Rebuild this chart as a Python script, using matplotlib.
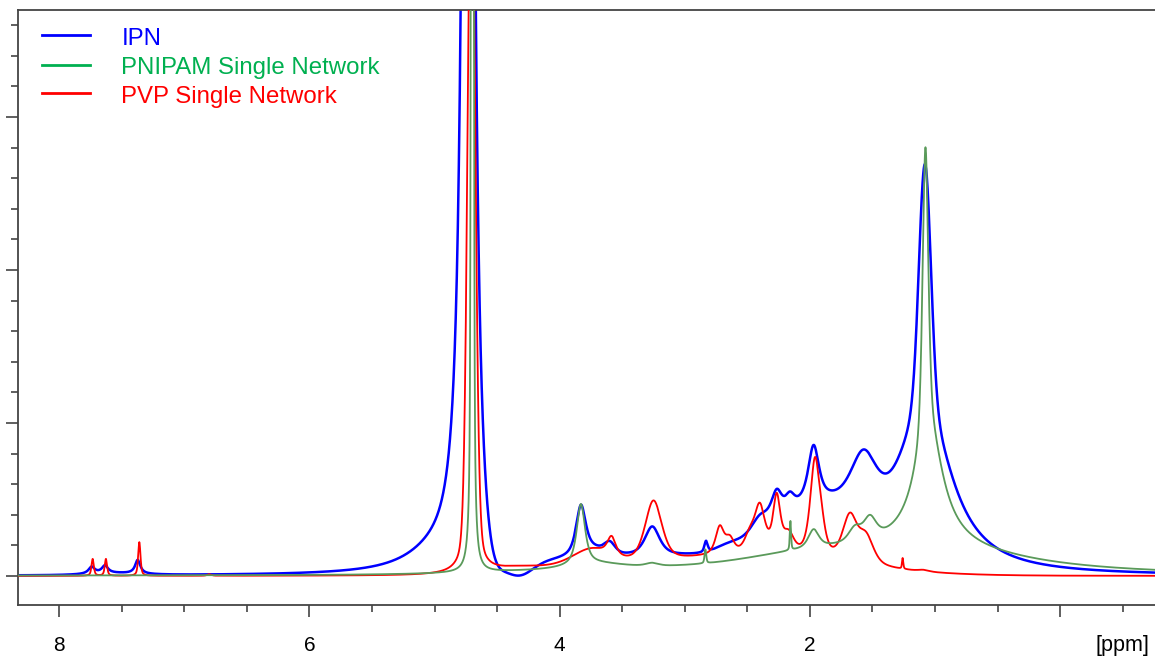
import numpy as np
import matplotlib
matplotlib.use("Agg")
from matplotlib import pyplot as plt
from matplotlib.lines import Line2D

plt.rcParams["font.family"] = ["Liberation Sans", "DejaVu Sans"]

# Peak tables: centre [ppm], height, half width [ppm],
# Lorentzian fraction (1 = Lorentzian, 0 = Gaussian)
ipn_centers = [4.73, 5.00, 4.57, 4.36, 7.741, 7.635, 7.373, 7.55, 3.20, 3.83, 3.75, 3.60,
               3.26, 2.83, 2.65, 2.40, 2.265, 2.16, 1.97, 1.57, 1.95, 1.08, 1.08]
ipn_heights = [15.3, 0.10, -0.30, -0.16, 0.045, 0.05, 0.09, 0.012, 0.10, 0.31, 0.06, 0.07,
               0.19, 0.07, 0.03, 0.09, 0.17, 0.08, 0.35, 0.35, 0.38, 1.53, 1.12]
ipn_widths = [0.0345, 0.30, 0.106, 0.15, 0.03, 0.03, 0.025, 0.25, 0.80, 0.045, 0.15, 0.05,
              0.07, 0.015, 0.12, 0.08, 0.05, 0.04, 0.05, 0.12, 0.45, 0.055, 0.25]
ipn_shape = [1.0, 1.0, 0.0, 0.0, 1.0, 1.0, 1.0, 0.5, 0.0, 0.7, 0.5, 0.5,
             0.7, 0.5, 0.5, 0.5, 0.7, 0.5, 0.7, 0.5, 0.0, 0.0, 1.0]

pnipam_centers = [4.698, 1.076, 1.05, 1.00, 2.00, 1.97, 1.52, 1.64, 2.155, 2.835,
                  3.83, 3.70, 3.26, 3.50]
pnipam_heights = [20.0, 1.89, 0.75, 0.17, 0.08, 0.12, 0.14, 0.09, 0.19, 0.09,
                  0.40, 0.03, 0.02, 0.03]
pnipam_widths = [0.008, 0.027, 0.14, 0.90, 0.60, 0.05, 0.06, 0.06, 0.006, 0.008,
                 0.04, 0.25, 0.06, 1.00]
pnipam_shape = [0.35, 0.5, 1.0, 1.0, 0.0, 0.7, 0.6, 0.6, 0.5, 0.5,
                0.8, 0.5, 0.5, 0.0]

pvp_centers = [4.705, 4.30, 2.50, 3.75, 3.585, 3.25, 2.72, 2.64, 2.48, 2.40, 2.265, 2.17,
               1.96, 1.91, 1.68, 1.55, 1.258, 1.09, 7.733, 7.627, 7.36, 6.80]
pvp_heights = [5.0, 0.04, 0.125, 0.13, 0.12, 0.40, 0.18, 0.09, 0.10, 0.30, 0.36, 0.12,
               0.61, 0.12, 0.30, 0.17, 0.07, 0.01, 0.11, 0.11, 0.22, 0.01]
pvp_widths = [0.035, 0.30, 0.90, 0.20, 0.04, 0.08, 0.04, 0.04, 0.05, 0.05, 0.035, 0.05,
              0.045, 0.04, 0.07, 0.07, 0.006, 0.05, 0.011, 0.011, 0.011, 0.02]
pvp_shape = [0.25, 0.5, 0.0, 0.5, 0.7, 0.5, 0.7, 0.5, 0.5, 0.7, 0.7, 0.5,
             0.7, 0.5, 0.6, 0.5, 0.5, 0.5, 0.6, 0.6, 0.6, 0.5]

labels = ["IPN", "PNIPAM Single Network", "PVP Single Network"]
line_colors = ["#0000ff", "#5a9a5a", "#ff0000"]
legend_colors = ["#0000ff", "#00b050", "#ff0000"]

x_ticks = [8, 6, 4, 2, 0]
x_ticklabels = ["8", "6", "4", "2", ""]


def spectrum(ppm, centers, heights, widths, shape):
    total = np.zeros_like(ppm)
    for c, h, w, eta in zip(centers, heights, widths, shape):
        u = ((ppm - c) / w) ** 2
        total += h * (eta / (1.0 + u) + (1.0 - eta) * np.exp(-np.log(2) * u))
    return total


ppm = np.linspace(-0.8, 8.4, 30000)
ipn = spectrum(ppm, ipn_centers, ipn_heights, ipn_widths, ipn_shape)
pnipam = spectrum(ppm, pnipam_centers, pnipam_heights, pnipam_widths, pnipam_shape)
pvp = spectrum(ppm, pvp_centers, pvp_heights, pvp_widths, pvp_shape)

W, H = 1155, 658
figure = plt.figure(figsize=(W / 100, H / 100), dpi=100)
axis = figure.add_axes([18 / W, 1 - 605 / H, 1 - 18 / W, 595 / H])

axis.plot(ppm, ipn, color=line_colors[0], lw=1.8, zorder=2)
axis.plot(ppm, pvp, color=line_colors[2], lw=1.3, zorder=3)
axis.plot(ppm, pnipam, color=line_colors[1], lw=1.3, zorder=4)

axis.set_xlim(8.330, -0.759)
axis.set_ylim(-0.19, 3.70)

axis.set_xticks(x_ticks)
axis.set_xticklabels(x_ticklabels)
axis.set_xticks(np.arange(-0.5, 8.5, 0.5), minor=True)
axis.set_yticks([0, 1, 2, 3])
axis.set_yticklabels([])
axis.set_yticks(np.arange(0, 3.7, 0.2), minor=True)

for side in ["left", "top", "bottom"]:
    axis.spines[side].set_color("#444444")
    axis.spines[side].set_linewidth(1.3)
axis.spines["right"].set_visible(False)

axis.tick_params(which="major", length=8.5, width=1.2, color="#444444",
                 labelsize=15, pad=14, direction="out")
axis.tick_params(which="minor", length=5, width=1.2, color="#444444", direction="out")

# unit label sits where the last tick label would be
figure.text(1122.5 / W, 1 - 646 / H, "[ppm]", fontsize=15.5, ha="center", va="center")

# Legend drawn by hand in figure pixels
handle_y = [34.5, 64.5, 92.5]
text_base = [45, 74, 103]
for index, label in enumerate(labels):
    y = 1 - handle_y[index] / H
    figure.add_artist(Line2D([42 / W, 90 / W], [y, y], color=legend_colors[index],
                             lw=2, transform=figure.transFigure))
    figure.text(121.5 / W, 1 - text_base[index] / H, label, color=legend_colors[index],
                fontsize=17.3, ha="left", va="baseline")

figure.savefig("out.png", dpi=100)
